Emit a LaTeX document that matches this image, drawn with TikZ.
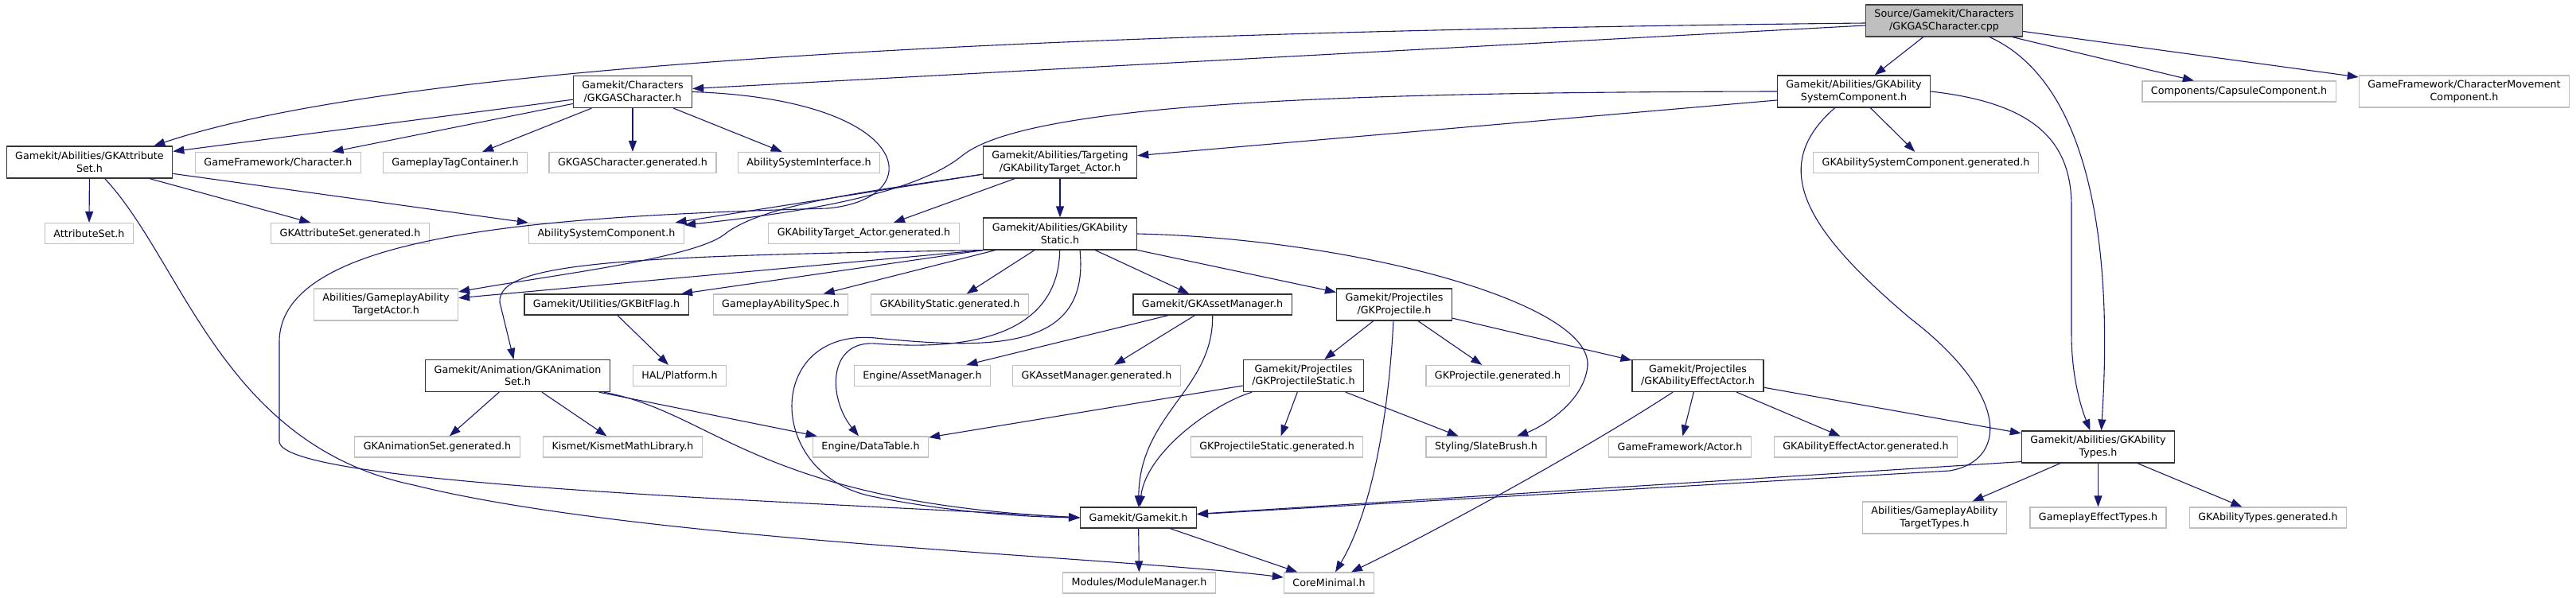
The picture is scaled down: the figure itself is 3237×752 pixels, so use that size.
\documentclass[tikz,border=0pt]{standalone}
\usepackage{fontspec}
\setmainfont{DejaVu Sans}
\usepackage{xcolor}
\usepackage{tikz}
\usetikzlibrary{arrows.meta}

\definecolor{edgeblue}{HTML}{191970}
\definecolor{extgray}{HTML}{BFBFBF}

\begin{document}
\begin{tikzpicture}[
  x=1pt, y=-1pt,
  font=\fontsize{12.7}{15.5}\selectfont,
  box/.style={rectangle, draw=black!80, fill=white, line width=1.2pt,
              text centered, align=center, inner xsep=11pt, inner ysep=3pt,
              minimum height=26pt},
  hbox/.style={box, minimum height=40pt},
  xbox/.style={box, draw=extgray},
  xhbox/.style={xbox, minimum height=40pt},
  rootbox/.style={hbox, fill=extgray, draw=black!75},
  arr/.style={-{Triangle[length=14pt,width=10pt]}, line width=1.1pt, edgeblue},
]
\useasboundingbox (0,0) rectangle (3237,752);

%% ---- Row 0 ----
\node[rootbox] (src) at (2443, 26) {Source/Gamekit/Characters\\/GKGASCharacter.cpp};

%% ---- Row 1 ----
\node[hbox]  (gaschar)  at (795, 115.5)  {Gamekit/Characters\\/GKGASCharacter.h};
\node[hbox]  (gasc)     at (2329.5, 115) {Gamekit/Abilities/GKAbility\\SystemComponent.h};
\node[xbox]  (capsule)  at (2813.5, 115) {Components/CapsuleComponent.h};
\node[xhbox] (charmove) at (3096.5, 115) {GameFramework/CharacterMovement\\Component.h};

%% ---- Row 2 ----
\node[hbox] (attrset)   at (112.5, 204)  {Gamekit/Abilities/GKAttribute\\Set.h};
\node[xbox] (character) at (349.5, 204.5) {GameFramework/Character.h};
\node[xbox] (tagcont)   at (572, 204.5)   {GameplayTagContainer.h};
\node[xbox] (gascgen)   at (795, 204.5)   {GKGASCharacter.generated.h};
\node[xbox] (asi)       at (1016.5, 204.5) {AbilitySystemInterface.h};
\node[hbox] (tgtactor)  at (1332, 204)    {Gamekit/Abilities/Targeting\\/GKAbilityTarget\_Actor.h};
\node[xbox] (ascgen)    at (2420, 204.5)  {GKAbilitySystemComponent.generated.h};

%% ---- Row 3 ----
\node[xbox] (attrbase) at (112, 293.5)    {AttributeSet.h};
\node[xbox] (attrgen)  at (440, 293.5)    {GKAttributeSet.generated.h};
\node[xbox] (asc)      at (762, 293.5)    {AbilitySystemComponent.h};
\node[xbox] (tgtgen)   at (1085.5, 293.5) {GKAbilityTarget\_Actor.generated.h};
\node[hbox] (abstatic) at (1332, 294)     {Gamekit/Abilities/GKAbility\\Static.h};

%% ---- Row 4 ----
\node[xhbox] (gatarget)  at (485, 383)    {Abilities/GameplayAbility\\TargetActor.h};
\node[box]   (bitflag)   at (762, 383)    {Gamekit/Utilities/GKBitFlag.h};
\node[xbox]  (spec)      at (981, 383)    {GameplayAbilitySpec.h};
\node[xbox]  (staticgen) at (1193.5, 383) {GKAbilityStatic.generated.h};
\node[box]   (assetmgr)  at (1523.5, 383) {Gamekit/GKAssetManager.h};
\node[hbox]  (proj)      at (1752, 383)   {Gamekit/Projectiles\\/GKProjectile.h};

%% ---- Row 5 ----
\node[hbox] (animset)     at (650.5, 472.5)  {Gamekit/Animation/GKAnimation\\Set.h};
\node[xbox] (platform)    at (854, 472.5)    {HAL/Platform.h};
\node[xbox] (engassetmgr) at (1159, 472.5)   {Engine/AssetManager.h};
\node[xbox] (assetgen)    at (1378, 472.5)   {GKAssetManager.generated.h};
\node[hbox] (projstatic)  at (1638, 472.5)   {Gamekit/Projectiles\\/GKProjectileStatic.h};
\node[xbox] (projgen)     at (1882, 472.5)   {GKProjectile.generated.h};
\node[hbox] (effect)      at (2133.5, 472.5) {Gamekit/Projectiles\\/GKAbilityEffectActor.h};

%% ---- Row 6 ----
\node[xbox] (animgen)       at (549.5, 562)  {GKAnimationSet.generated.h};
\node[xbox] (kismet)        at (782.5, 562)  {Kismet/KismetMathLibrary.h};
\node[xbox] (datatable)     at (1094, 562)   {Engine/DataTable.h};
\node[xbox] (projstaticgen) at (1604.5, 562) {GKProjectileStatic.generated.h};
\node[xbox] (slatebrush)    at (1867.5, 562) {Styling/SlateBrush.h};
\node[xbox] (actor)         at (2111, 562)   {GameFramework/Actor.h};
\node[xbox] (effectgen)     at (2344.5, 562) {GKAbilityEffectActor.generated.h};
\node[hbox] (types)         at (2636.5, 562) {Gamekit/Abilities/GKAbility\\Types.h};

%% ---- Row 7 ----
\node[box]   (gamekit)     at (1430.5, 651) {Gamekit/Gamekit.h};
\node[xhbox] (tgttypes)    at (2431, 651)   {Abilities/GameplayAbility\\TargetTypes.h};
\node[xbox]  (effecttypes) at (2636.5, 651) {GameplayEffectTypes.h};
\node[xbox]  (typesgen)    at (2850, 651)   {GKAbilityTypes.generated.h};

%% ---- Row 8 ----
\node[xbox] (modmgr)  at (1431.5, 733) {Modules/ModuleManager.h};
\node[xbox] (coremin) at (1670, 733)   {CoreMinimal.h};

%% ---- GKGASCharacter.cpp ----
\draw[arr] ([yshift=-6pt]src.west) -- (gaschar);
\draw[arr] ([yshift=-3pt]src.west) .. controls (1300,40) and (500,80) .. ([xshift=-24pt]attrset.north east);
\draw[arr] (src) -- (gasc);
\draw[arr] ([xshift=-42pt]src.south east) .. controls (2660,120) and (2648,420) .. ([xshift=4pt]types.north);
\draw[arr] (src) -- (capsule);
\draw[arr] (src) -- (charmove);

%% ---- GKGASCharacter.h ----
\draw[arr] (gaschar) -- (attrset);
\draw[arr] (gaschar) -- (character);
\draw[arr] (gaschar) -- (tagcont);
\draw[arr] (gaschar) -- (gascgen);
\draw[arr] (gaschar) -- (asi);
\draw[arr] (gaschar.east) .. controls (1150,125) and (1170,250) .. (1040,262)
  .. controls (700,272) and (351,290) .. (351,430) -- (351,555)
  .. controls (351,610) and (1000,630) .. (gamekit.west);

%% ---- GKAbilitySystemComponent.h ----
\draw[arr] (gasc.west) .. controls (1750,116) and (1300,125) .. (1210,195)
  .. controls (1150,245) and (1000,268) .. (asc);
\draw[arr] ([yshift=-11pt]gasc.west) -- (tgtactor);
\draw[arr] (gasc) -- (ascgen);
\draw[arr] (gasc.east) .. controls (2560,130) and (2603,180) .. (2603,260) -- (2603,420)
  .. controls (2603,480) and (2618,520) .. ([xshift=-10pt]types.north);
\draw[arr] (gasc) .. controls (2220,210) and (2270,290) .. (2400,400)
  .. controls (2530,500) and (2520,580) .. (2450,592) -- (gamekit);

%% ---- GKAttributeSet.h ----
\draw[arr] (attrset) -- (attrbase);
\draw[arr] (attrset) -- (attrgen);
\draw[arr] (attrset) -- (asc);
\draw[arr] (attrset) .. controls (230,330) and (280,560) .. (520,610)
  .. controls (800,680) and (1400,700) .. (coremin);

%% ---- GKAbilityTarget_Actor.h ----
\draw[arr] (tgtactor) -- (asc);
\draw[arr] (tgtactor) -- (tgtgen);
\draw[arr] (tgtactor) -- (abstatic);
\draw[arr] (tgtactor) .. controls (1100,240) and (960,255) .. (910,295)
  .. controls (870,325) and (700,345) .. (gatarget);

%% ---- GKAbilityStatic.h ----
\draw[arr] (abstatic.south west) -- (gatarget);
\draw[arr] (abstatic.south west) -- (bitflag);
\draw[arr] (abstatic) -- (spec);
\draw[arr] (abstatic) -- (staticgen);
\draw[arr] (abstatic.south west) .. controls (780,322) and (625,330) .. (628,380) -- (animset);
\draw[arr] (abstatic) .. controls (1330,430) and (1200,440) .. (1100,432)
  .. controls (1040,428) and (1040,500) .. ([xshift=-15pt]datatable.north);
\draw[arr] ([xshift=25pt]abstatic.south) .. controls (1370,440) and (1250,440) .. (1100,425)
  .. controls (960,412) and (960,600) .. (1100,625)
  .. controls (1200,645) and (1290,650) .. (gamekit.west);
\draw[arr] (abstatic) -- (assetmgr);
\draw[arr] (abstatic) -- (proj);
\draw[arr] (abstatic.east) .. controls (1700,300) and (2000,380) .. (1995,460)
  .. controls (1990,510) and (1930,540) .. (slatebrush);

%% ---- GKBitFlag.h, GKAssetManager.h ----
\draw[arr] (bitflag) -- (platform);
\draw[arr] (assetmgr) -- (engassetmgr);
\draw[arr] (assetmgr) -- (assetgen);
\draw[arr] (assetmgr) .. controls (1525,490) and (1432,520) .. (gamekit);

%% ---- GKProjectile.h ----
\draw[arr] (proj) -- (projstatic);
\draw[arr] (proj) -- (projgen);
\draw[arr] (proj) -- (effect);
\draw[arr] (proj) .. controls (1745,520) and (1725,640) .. (coremin);

%% ---- GKProjectileStatic.h ----
\draw[arr] (projstatic) -- (datatable);
\draw[arr] (projstatic) .. controls (1520,510) and (1440,570) .. (gamekit);
\draw[arr] (projstatic) -- (projstaticgen);
\draw[arr] (projstatic) -- (slatebrush);

%% ---- GKAbilityEffectActor.h ----
\draw[arr] (effect) .. controls (2000,560) and (1820,660) .. (coremin);
\draw[arr] (effect) -- (actor);
\draw[arr] (effect) -- (effectgen);
\draw[arr] (effect) -- (types);

%% ---- GKAnimationSet.h ----
\draw[arr] (animset) -- (animgen);
\draw[arr] (animset) -- (kismet);
\draw[arr] (animset) -- (datatable);
\draw[arr] (animset) .. controls (900,520) and (950,630) .. (gamekit.west);

%% ---- GKAbilityTypes.h ----
\draw[arr] ([yshift=2pt]types.south west) -- (gamekit);
\draw[arr] (types) -- (tgttypes);
\draw[arr] (types) -- (effecttypes);
\draw[arr] (types) -- (typesgen);

%% ---- Gamekit.h ----
\draw[arr] (gamekit) -- (modmgr);
\draw[arr] (gamekit) -- (coremin);

\end{tikzpicture}
\end{document}
